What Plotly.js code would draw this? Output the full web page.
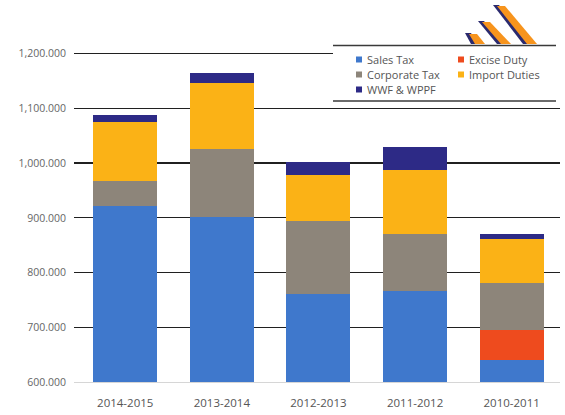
<!DOCTYPE html>
<html>
<head>
<meta charset="utf-8">
<script src="https://cdn.plot.ly/plotly-3.0.1.min.js"></script>
<style>html,body{margin:0;padding:0;background:#fff;}#chart{width:565px;height:415px;}</style>
</head>
<body>
<div id="chart"></div>
<script>
// ---- data ----
const years = ["2014-2015", "2013-2014", "2012-2013", "2011-2012", "2010-2011"];
const salesTax     = [921000, 901000, 760000, 767000, 640000];
const exciseDuty   = [null, null, null, null, 55000];
const corporateTax = [47000, 125000, 135000, 104000, 86000];
const importDuties = [107000, 121000, 84000, 116000, 80000];
const wwfWppf      = [13000, 17000, 23000, 43000, 9000];
const yTickVals  = [600000, 700000, 800000, 900000, 1000000, 1100000, 1200000];
const yTickText  = ["600.000", "700.000", "800.000", "900.000", "1,000.000", "1,100.000", "1,200.000"];

const seriesNames  = ["Sales Tax", "Excise Duty", "Corporate Tax", "Import Duties", "WWF & WPPF"];
const seriesValues = [salesTax, exciseDuty, corporateTax, importDuties, wwfWppf];
const seriesColors = ["#3f78cc", "#ee4b1e", "#8d857a", "#fbb216", "#2d2a86"];

const W = 565, H = 415;
const M = {l: 74, r: 5, t: 52, b: 33};
const PW = W - M.l - M.r, PH = H - M.t - M.b;
const px = v => (v - M.l) / PW;          // pixel -> paper x
const py = v => (H - M.b - v) / PH;      // pixel -> paper y

const traces = seriesNames.map((n, i) => ({
  type: "bar", name: n, x: years, y: seriesValues[i],
  marker: {color: seriesColors[i], line: {width: 0}},
  showlegend: false, hoverinfo: "x+y+name"
}));

// legend built from series names / colours
const legendSlots = {
  "Sales Tax":     [356, 59.5],
  "Corporate Tax": [356, 74.5],
  "WWF & WPPF":    [356, 89.5],
  "Excise Duty":   [458, 59.5],
  "Import Duties": [458, 74.5]
};
const shapes = [];
const annotations = [];
// white backing behind legend (hides grid line)
shapes.push({type: "rect", xref: "paper", yref: "paper",
  x0: px(333), x1: px(560), y0: py(100), y1: py(47),
  fillcolor: "#fff", line: {width: 0}, layer: "above"});
seriesNames.forEach((n, i) => {
  const [sx, sy] = legendSlots[n];
  shapes.push({type: "rect", xref: "paper", yref: "paper",
    x0: px(sx), x1: px(sx + 6), y0: py(sy + 3), y1: py(sy - 3),
    fillcolor: seriesColors[i], line: {width: 0}, layer: "above"});
  annotations.push({xref: "paper", yref: "paper", x: px(sx + 8.5), y: py(sy),
    xanchor: "left", yanchor: "middle", showarrow: false, text: n,
    font: {family: "Open Sans, sans-serif", size: 11, color: "#555"}});
});

// decorative logo (top right): [topLeftX, topY, bottomLeftX, bottomY]
const stripes = [[465, 33, 471, 44], [478, 21, 497, 44], [493, 5, 523, 44]];
stripes.forEach(([xt, yt, xb, yb]) => {
  const navy = `M ${px(xt)},${py(yt)} L ${px(xt + 6)},${py(yt)} L ${px(xb + 6)},${py(yb)} L ${px(xb)},${py(yb)} Z`;
  const org  = `M ${px(xt + 4)},${py(yt + 1)} L ${px(xt + 12)},${py(yt + 1)} L ${px(xb + 14)},${py(yb)} L ${px(xb + 4)},${py(yb)} Z`;
  shapes.push({type: "path", xref: "paper", yref: "paper", path: navy, fillcolor: "#2b2a6e", line: {width: 0}, layer: "above"});
  shapes.push({type: "path", xref: "paper", yref: "paper", path: org, fillcolor: "#f7941d", line: {width: 0}, layer: "above"});
});
// legend rules
[45.5, 101].forEach(yy => shapes.push({type: "line", xref: "paper", yref: "paper",
  x0: px(333), x1: px(556), y0: py(yy), y1: py(yy),
  line: {color: "#3a3a3a", width: 1.3}, layer: "above"}));

const layout = {
  width: W, height: H,
  margin: M,
  paper_bgcolor: "#fff", plot_bgcolor: "#fff",
  barmode: "stack", bargap: 0.337,
  font: {family: "Open Sans, sans-serif", color: "#555"},
  showlegend: false,
  xaxis: {type: "category", range: [-0.53, 4.5], showgrid: false,
    showline: true, linecolor: "#d6d6d6", linewidth: 1, layer: "below traces",
    ticks: "", tickfont: {size: 11.5, color: "#555"}, ticklabelstandoff: 10},
  yaxis: {range: [600000, 1203000], tickmode: "array", tickvals: yTickVals, ticktext: yTickText,
    showgrid: true, gridcolor: "#202020", gridwidth: 1.3, zeroline: false, showline: false,
    ticks: "", tickfont: {size: 10.5, color: "#666"}, ticklabelstandoff: 7},
  shapes: shapes,
  annotations: annotations
};

Plotly.newPlot("chart", traces, layout, {displayModeBar: false, staticPlot: true});
</script>
</body>
</html>
